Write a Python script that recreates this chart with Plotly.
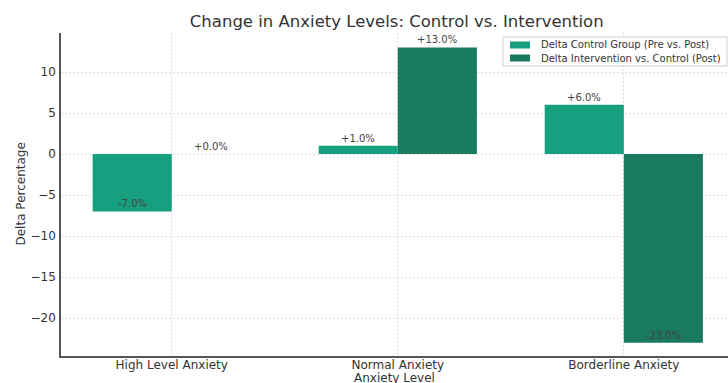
import plotly.graph_objects as go

categories = ["High Level Anxiety", "Normal Anxiety", "Borderline Anxiety"]
control_delta = [-7.0, 1.0, 6.0]
intervention_delta = [0.0, 13.0, -23.0]
series_names = ["Delta Control Group (Pre vs. Post)", "Delta Intervention vs. Control (Post)"]
y_ticks = [-20, -15, -10, -5, 0, 5, 10]

colors = ["#17a07f", "#1a7a60"]
FONT = "DejaVu Sans"

fig = go.Figure()
for name, vals, col in zip(series_names, [control_delta, intervention_delta], colors):
    fig.add_trace(go.Bar(x=list(range(len(categories))), y=vals, name=name,
                         marker=dict(color=col, line=dict(width=0)), showlegend=False))

# value labels
offsets = [-0.175, 0.175]
for off, vals in zip(offsets, [control_delta, intervention_delta]):
    for i, v in enumerate(vals):
        fig.add_annotation(x=i + off, y=v, xref="x", yref="y", text=f"{v:+.1f}%",
                           showarrow=False, yanchor="bottom", yshift=0,
                           font=dict(family=FONT, size=10, color="#444"))

# compact legend (matplotlib-like)
PW, PH = 667.0, 323.0
def px_x(p):
    return p / PW
def px_y(p):
    return 1 - p / PH
lx0, lx1, ly0, ly1 = 442, 666, 4, 33
fig.add_shape(type="rect", xref="paper", yref="paper",
              x0=px_x(lx0), x1=px_x(lx1), y0=px_y(ly1), y1=px_y(ly0),
              line=dict(color="#d0d0d0", width=1), fillcolor="rgba(255,255,255,0.85)", layer="above")
for k, (name, col) in enumerate(zip(series_names, colors)):
    cy = 12 + 13 * k
    fig.add_shape(type="rect", xref="paper", yref="paper",
                  x0=px_x(449), x1=px_x(469), y0=px_y(cy + 3.5), y1=px_y(cy - 3.5),
                  line=dict(width=0), fillcolor=col, layer="above")
    fig.add_annotation(x=px_x(478), y=px_y(cy), xref="paper", yref="paper", text=name,
                       showarrow=False, xanchor="left", yanchor="middle",
                       font=dict(family=FONT, size=10, color="#333"))

# axis titles
fig.add_annotation(x=0.5, y=-22 / PH, xref="paper", yref="paper", text="Anxiety Level",
                   showarrow=False, xanchor="center", yanchor="middle",
                   font=dict(family=FONT, size=12, color="#333"))
fig.add_annotation(x=-41 / PW, y=0.5, xref="paper", yref="paper", text="Delta Percentage",
                   showarrow=False, xanchor="center", yanchor="middle", textangle=-90,
                   font=dict(family=FONT, size=12, color="#333"))

fig.update_layout(
    width=728, height=383,
    margin=dict(l=61, r=0, t=33, b=27),
    paper_bgcolor="white", plot_bgcolor="white",
    barmode="group", bargap=0.3, bargroupgap=0,
    font=dict(family=FONT, color="#333"),
    title=dict(text="Change in Anxiety Levels: Control vs. Intervention",
               x=0.545, xanchor="center", y=0.945, yanchor="middle",
               font=dict(family=FONT, size=16.5, color="#333")),
    showlegend=False,
)

common = dict(showgrid=True, gridcolor="#dedede", griddash="2px,2px", gridwidth=1,
              showline=True, linecolor="#555", linewidth=1.5, ticks="",
              zeroline=False, automargin=False)

fig.update_xaxes(
    range=[-0.49, 2.461], tickmode="array", tickvals=list(range(len(categories))),
    ticktext=categories, tickfont=dict(family=FONT, size=12, color="#333"), **common)
fig.update_yaxes(
    range=[-24.62, 14.76], tickmode="array", tickvals=y_ticks,
    tickfont=dict(family=FONT, size=12, color="#333"), **common)

try:
    fig.update_xaxes(ticklabelstandoff=-3)
    fig.update_yaxes(ticklabelstandoff=1)
except Exception:
    pass

fig.write_html("out.html")
